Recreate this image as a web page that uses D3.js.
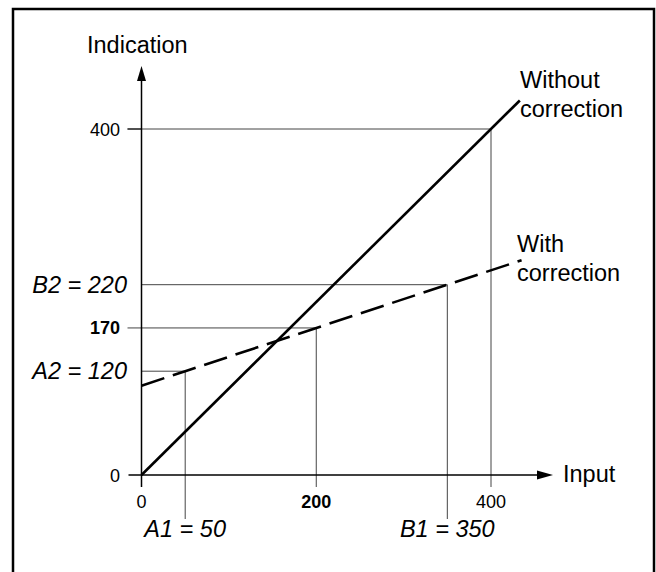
<!DOCTYPE html>
<html>
<head>
<meta charset="utf-8">
<script src="https://cdn.jsdelivr.net/npm/d3@7"></script>
<style>
  html, body { margin: 0; padding: 0; background: #fff; }
  svg { display: block; font-family: "Liberation Sans", Arial, Helvetica, sans-serif; }
</style>
</head>
<body>
<svg id="chart" width="656" height="572"></svg>
<script>
// Axis ticks
const inputTicks = [0, 200, 400];
const indicationTicks = [0, 170, 400];
const boldTicks = [170, 200];

// Uncorrected response: indication equals input
const withoutCorrection = [[0, 0], [433, 433]];

// Corrected response through the two calibration points
const withCorrection = [[0, 103.3], [50, 120], [350, 220], [435, 248.3]];

// Calibration points
const calibration = [
  { name: "A", input: 50, indication: 120 },
  { name: "B", input: 350, indication: 220 }
];

// Read-outs at the input 200 and 400
const readouts = [
  { input: 200, indication: 170 },
  { input: 400, indication: 400 }
];

const svg = d3.select("#chart");

const x = d3.scaleLinear().domain([0, 400]).range([141.5, 491]);
const y = d3.scaleLinear().domain([0, 400]).range([475, 129]);

// Outer frame
svg.append("rect")
  .attr("x", 13).attr("y", 9)
  .attr("width", 641).attr("height", 580)
  .attr("fill", "none").attr("stroke", "#000").attr("stroke-width", 2.5);

const guide = svg.append("g")
  .attr("stroke", "#444").attr("stroke-width", 1).attr("fill", "none");

// Read-out guides: horizontal from the tick, vertical down to the tick
readouts.forEach(d => {
  guide.append("line")
    .attr("x1", x(0) - 14).attr("x2", x(d.input))
    .attr("y1", y(d.indication)).attr("y2", y(d.indication));
  guide.append("line")
    .attr("x1", x(d.input)).attr("x2", x(d.input))
    .attr("y1", y(d.indication)).attr("y2", y(0) + 12);
});

// Calibration guides: from the axis to the point, then down past the axis
calibration.forEach(d => {
  guide.append("line")
    .attr("x1", x(0)).attr("x2", x(d.input))
    .attr("y1", y(d.indication)).attr("y2", y(d.indication));
  guide.append("line")
    .attr("x1", x(d.input)).attr("x2", x(d.input))
    .attr("y1", y(d.indication)).attr("y2", y(0) + 44);
});

// Axes with arrow heads
const axes = svg.append("g").attr("stroke", "#000").attr("stroke-width", 1.5);
axes.append("line")
  .attr("x1", x(0)).attr("x2", x(0))
  .attr("y1", y(0) + 12).attr("y2", 78);
axes.append("line")
  .attr("x1", x(0) - 13).attr("x2", 540)
  .attr("y1", y(0)).attr("y2", y(0));
// tick stubs for 0 and 400 on the input axis
axes.append("line")
  .attr("x1", x(0) - 14).attr("x2", x(0))
  .attr("y1", y(400)).attr("y2", y(400)).attr("stroke-width", 1);

svg.append("path")
  .attr("d", `M${x(0)},66 L${x(0) - 4.5},81 L${x(0) + 4.5},81 Z`)
  .attr("fill", "#000");
svg.append("path")
  .attr("d", `M553,${y(0)} L537,${y(0) - 4.5} L537,${y(0) + 4.5} Z`)
  .attr("fill", "#000");

// Response lines
const line = d3.line().x(d => x(d[0])).y(d => y(d[1]));
svg.append("path")
  .datum(withoutCorrection)
  .attr("d", line)
  .attr("fill", "none").attr("stroke", "#000").attr("stroke-width", 2.6);
svg.append("path")
  .datum(withCorrection)
  .attr("d", line)
  .attr("fill", "none").attr("stroke", "#000").attr("stroke-width", 2.6)
  .attr("stroke-dasharray", "24,9");

// Tick labels
const tickSize = 18;
svg.append("g").selectAll("text")
  .data(inputTicks).join("text")
  .attr("x", d => x(d)).attr("y", 507.5)
  .attr("text-anchor", "middle")
  .attr("font-size", tickSize)
  .attr("font-weight", d => boldTicks.includes(d) ? "bold" : "normal")
  .text(d => d);

svg.append("g").selectAll("text")
  .data(indicationTicks).join("text")
  .attr("x", 120).attr("y", d => y(d) + 6.5)
  .attr("text-anchor", "end")
  .attr("font-size", tickSize)
  .attr("font-weight", d => boldTicks.includes(d) ? "bold" : "normal")
  .text(d => d);

// Calibration labels
const big = 23.5;
svg.append("g").selectAll("text")
  .data(calibration).join("text")
  .attr("x", 127).attr("y", d => y(d.indication) + 8)
  .attr("text-anchor", "end")
  .attr("font-size", big).attr("font-style", "italic")
  .text(d => `${d.name}2 = ${d.indication}`);
svg.append("g").selectAll("text")
  .data(calibration).join("text")
  .attr("x", d => x(d.input)).attr("y", 537)
  .attr("text-anchor", "middle")
  .attr("font-size", big).attr("font-style", "italic")
  .text(d => `${d.name}1 = ${d.input}`);

// Axis titles
svg.append("text")
  .attr("x", 87).attr("y", 53)
  .attr("font-size", big).text("Indication");
svg.append("text")
  .attr("x", 563).attr("y", 482)
  .attr("font-size", big).text("Input");

// Series labels
const seriesLabel = (lines, x0, y0) => {
  const t = svg.append("text").attr("font-size", big);
  lines.forEach((s, i) => t.append("tspan").attr("x", x0).attr("y", y0 + i * 29).text(s));
};
seriesLabel(["Without", "correction"], 520, 88);
seriesLabel(["With", "correction"], 517, 252);
</script>
</body>
</html>
